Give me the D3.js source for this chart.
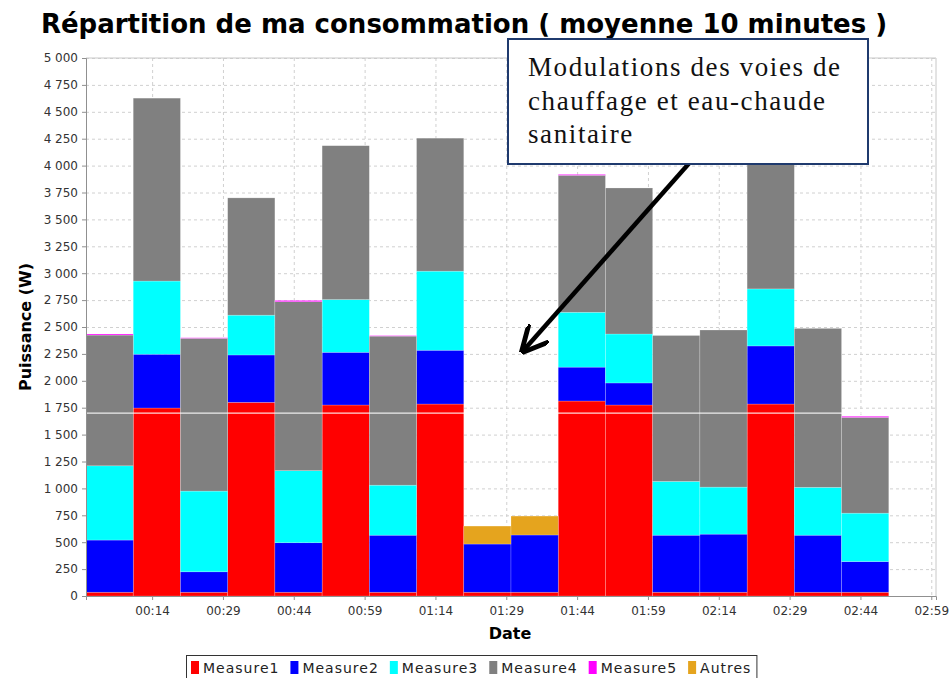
<!DOCTYPE html>
<html>
<head>
<meta charset="utf-8">
<script src="https://cdn.jsdelivr.net/npm/d3@7"></script>
<style>
body { margin: 0; background: #fff; }
svg { display: block; font-family: "DejaVu Sans", sans-serif; }
</style>
</head>
<body>
<svg class="chart"></svg>
<script>
// periodes de 10 minutes (debut)
var periodes = ["00:00", "00:10", "00:20", "00:30", "00:40", "00:50", "01:00", "01:10", "01:20",
	"01:30", "01:40", "01:50", "02:00", "02:10", "02:20", "02:30", "02:40"];
var measure1 = [35, 1747, 35, 1800, 35, 1775, 35, 1784, 35, 35, 1812, 1775, 35, 35, 1784, 35, 35];
var measure2 = [485, 500, 190, 440, 460, 490, 530, 500, 448, 532, 315, 205, 530, 540, 540, 530, 285];
var measure3 = [690, 680, 750, 370, 670, 490, 465, 735, 0, 0, 510, 455, 500, 437, 530, 445, 450];
var measure4 = [1215, 1700, 1420, 1090, 1570, 1430, 1385, 1236, 0, 0, 1273, 1357, 1356, 1460, 1250, 1477, 890];
var measure5 = [10, 0, 5, 0, 12, 0, 5, 0, 0, 0, 8, 0, 0, 0, 0, 0, 10];
var autres = [0, 0, 0, 0, 0, 0, 0, 0, 167, 176, 0, 0, 0, 0, 0, 0, 0];

var series = ["Measure1", "Measure2", "Measure3", "Measure4", "Measure5", "Autres"];
var couleurs = ["#ff0000", "#0000ff", "#00ffff", "#808080", "#ff00ff", "#e5a41e"];
var xTicks = ["00:14", "00:29", "00:44", "00:59", "01:14", "01:29", "01:44", "01:59", "02:14", "02:29", "02:44", "02:59"];
var seuil = 1700;

var width = 949, height = 678;
var plot = {left: 86, right: 936, top: 58, bottom: 596};

function minutes(s) {
	var p = s.split(":");
	return +p[0] * 60 + +p[1];
}
function hhmm(m) {
	return d3.format("02")(Math.floor(m / 60)) + ":" + d3.format("02")(m % 60);
}

var table = periodes.map(function(p, i) {
	return {t: minutes(p), Measure1: measure1[i], Measure2: measure2[i], Measure3: measure3[i],
		Measure4: measure4[i], Measure5: measure5[i], Autres: autres[i]};
});

var x = d3.scaleLinear().domain([0, 180]).range([plot.left, plot.right]);
var y = d3.scaleLinear().domain([0, 5000]).range([plot.bottom, plot.top]);
var color = d3.scaleOrdinal().domain(series).range(couleurs);

var fr = d3.formatLocale({decimal: ",", thousands: "\u00a0", grouping: [3], currency: ["", " €"]});

var svg = d3.select(".chart")
	.attr("width", width)
	.attr("height", height);

// grille
var yTickVals = d3.range(0, 5001, 250);
svg.append("g").selectAll("line")
	.data(yTickVals.filter(d => d > 0))
	.enter().append("line")
	.attr("x1", plot.left).attr("x2", plot.right)
	.attr("y1", d => y(d) + 0.5).attr("y2", d => y(d) + 0.5)
	.attr("stroke", "#d0d0d0")
	.attr("stroke-dasharray", "3,3");

svg.append("g").selectAll("line")
	.data(xTicks.map(minutes))
	.enter().append("line")
	.attr("x1", d => x(d) + 0.5).attr("x2", d => x(d) + 0.5)
	.attr("y1", plot.top).attr("y2", plot.bottom)
	.attr("stroke", "#d0d0d0")
	.attr("stroke-dasharray", "3,3");

// barres empilees
var stacked = d3.stack().keys(series)(table);

svg.append("g").selectAll("g")
	.data(stacked)
	.enter().append("g")
	.attr("fill", d => color(d.key))
	.selectAll("rect")
	.data(d => d)
	.enter().append("rect")
	.attr("x", d => x(d.data.t))
	.attr("width", x(10) - x(0))
	.attr("y", d => y(d[1]))
	.attr("height", d => y(d[0]) - y(d[1]))
	.attr("stroke", "rgba(255,255,255,0.35)")
	.attr("stroke-width", 0.6);

// ligne de seuil
svg.append("line")
	.attr("x1", plot.left).attr("x2", plot.right)
	.attr("y1", y(seuil)).attr("y2", y(seuil))
	.attr("stroke", "#ffffff")
	.attr("stroke-opacity", 0.85)
	.attr("stroke-width", 1.2);

// cadre du graphe
svg.append("path")
	.attr("d", "M" + plot.left + "," + plot.top + "H" + plot.right + "V" + plot.bottom)
	.attr("fill", "none")
	.attr("stroke", "#c8c8c8");

// axes
var yAxis = d3.axisLeft(y).tickValues(yTickVals).tickFormat(fr.format(",")).tickSize(4).tickPadding(4);
var xAxis = d3.axisBottom(x).tickValues(xTicks.map(minutes)).tickFormat(hhmm).tickSize(4).tickPadding(6);

var gy = svg.append("g")
	.attr("transform", "translate(" + plot.left + ",0)")
	.call(yAxis);
var gx = svg.append("g")
	.attr("transform", "translate(0," + plot.bottom + ")")
	.call(xAxis);

[gx, gy].forEach(function(g) {
	g.select(".domain").attr("stroke", "#909090");
	g.selectAll(".tick line").attr("stroke", "#909090");
	g.selectAll(".tick text")
		.attr("fill", "#333")
		.style("font-size", "12px")
		.style("font-family", "DejaVu Sans, sans-serif");
});

// titres
svg.append("text")
	.attr("x", 464).attr("y", 33)
	.attr("text-anchor", "middle")
	.style("font-size", "26px")
	.style("font-weight", "bold")
	.text("Répartition de ma consommation ( moyenne 10 minutes )");

svg.append("text")
	.attr("transform", "translate(31," + ((plot.top + plot.bottom) / 2) + ") rotate(-90)")
	.attr("text-anchor", "middle")
	.style("font-size", "16px")
	.style("font-weight", "bold")
	.text("Puissance (W)");

svg.append("text")
	.attr("x", 510).attr("y", 639)
	.attr("text-anchor", "middle")
	.style("font-size", "16px")
	.style("font-weight", "bold")
	.text("Date");

// legende
var legend = svg.append("g");
var lx = 191;
series.forEach(function(s) {
	legend.append("rect")
		.attr("x", lx).attr("y", 661)
		.attr("width", 8).attr("height", 13)
		.attr("fill", color(s));
	var t = legend.append("text")
		.attr("x", lx + 12).attr("y", 673)
		.style("font-size", "14px")
		.style("letter-spacing", "1px")
		.attr("fill", "#222")
		.text(s);
	lx += 12 + t.node().getComputedTextLength() + 11;
});
legend.insert("rect", ":first-child")
	.attr("x", 186.5).attr("y", 655.5)
	.attr("width", lx - 186 - 6).attr("height", 30)
	.attr("fill", "#fff")
	.attr("stroke", "#333");

// annotation
svg.append("defs").append("marker")
	.attr("id", "fleche")
	.attr("viewBox", "0 0 10 10")
	.attr("refX", 9).attr("refY", 5)
	.attr("markerWidth", 6).attr("markerHeight", 6)
	.attr("orient", "auto")
	.append("path")
	.attr("d", "M0,0L10,5L0,10")
	.attr("fill", "none")
	.attr("stroke", "#000")
	.attr("stroke-width", 1.8);

svg.append("line")
	.attr("x1", 692).attr("y1", 160)
	.attr("x2", 523).attr("y2", 351)
	.attr("stroke", "#000")
	.attr("stroke-width", 4.5)
	.attr("marker-end", "url(#fleche)");

svg.append("rect")
	.attr("x", 508).attr("y", 39)
	.attr("width", 360).attr("height", 125)
	.attr("fill", "#fff")
	.attr("stroke", "#1f3a6e")
	.attr("stroke-width", 2);

var lignes = ["Modulations des voies de", "chauffage et eau-chaude", "sanitaire"];
svg.append("text")
	.attr("x", 528).attr("y", 76)
	.style("font-family", "Liberation Serif, serif")
	.style("font-size", "27px")
	.style("letter-spacing", "1.6px")
	.attr("fill", "#111")
	.selectAll("tspan")
	.data(lignes)
	.enter().append("tspan")
	.attr("x", 528)
	.attr("dy", (d, i) => i ? 33.5 : 0)
	.text(d => d);
</script>
</body>
</html>
